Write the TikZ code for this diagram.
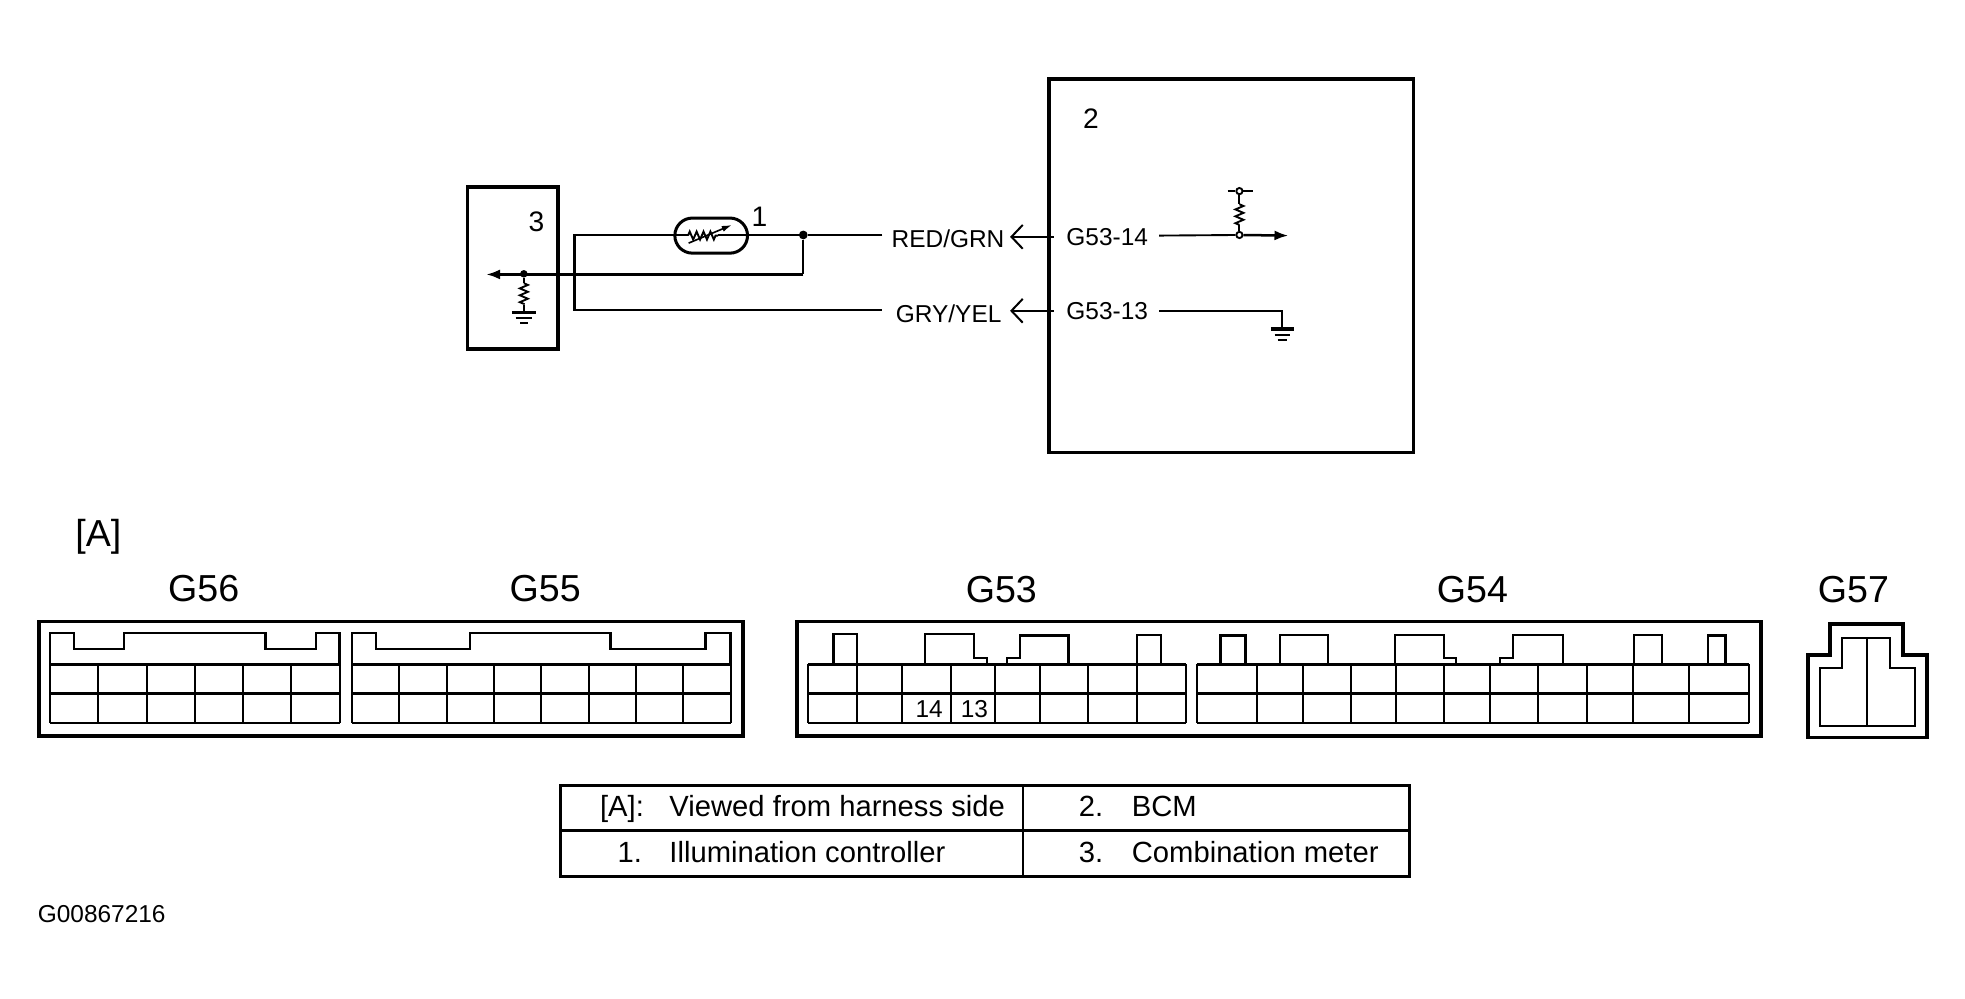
\documentclass[tikz,border=0pt]{standalone}
\usepackage{fontspec}
\setmainfont{Liberation Sans}
\usetikzlibrary{arrows.meta,shapes.misc,decorations.pathmorphing}

\begin{document}
\begin{tikzpicture}[
    x=1pt, y=-1pt,
    unitbox/.style={rectangle, draw, line width=3pt, inner sep=0pt},
    sensor/.style={rounded rectangle, draw, line width=2.4pt, inner sep=0pt, minimum width=58pt, minimum height=28pt},
    pinlabel/.style={inner sep=0pt, font=\fontsize{19.5}{20}\selectfont},
    numlabel/.style={inner sep=0pt, font=\fontsize{22.5}{23}\selectfont},
    connlabel/.style={inner sep=0pt, font=\fontsize{30}{31}\selectfont},
    celllabel/.style={inner sep=0pt, font=\fontsize{23.3}{24}\selectfont, anchor=base west},
    wire/.style={line width=1.8pt},
    thinwire/.style={line width=1.5pt},
    solid arrow/.style={line width=2pt, -{Latex[length=11pt,width=8pt]}},
    open arrow/.style={line width=1.6pt, -{Straight Barb[length=9pt,width=19pt,line width=1.6pt]}},
    zigzag/.style={line width=1.5pt, decorate, decoration={zigzag, amplitude=3.2pt, segment length=5.5pt}},
    dot/.style={circle, fill, inner sep=0pt, minimum size=6pt},
    opendot/.style={circle, draw, fill=white, line width=1.5pt, inner sep=0pt, minimum size=5pt},
    shell/.style={line width=3pt},
    keyline/.style={line width=1.9pt},
    gridline/.style={line width=1.6pt},
    rowline/.style={line width=2.2pt},
    tableline/.style={line width=2.4pt}
]
\useasboundingbox (0,0) rectangle (1568,796.4);

\node[unitbox, minimum width=291pt, minimum height=298pt] (bcm) at (982.5,212) {};
\node[unitbox, minimum width=72pt, minimum height=129pt] (meter) at (409,214) {};
\node[numlabel] (bcmnum) at (870.5,94.5) {2};
\node[numlabel] (meternum) at (428,177) {3};
\node[numlabel] (sensornum) at (606,173) {1};

\node[pinlabel] (pin14) at (883.5,189) {G53-14};
\node[pinlabel] (pin13) at (883.5,248.5) {G53-13};
\node[pinlabel] (redgrn) at (756.5,190.5) {RED/GRN};
\node[pinlabel] (gryyel) at (757,250) {GRY/YEL};

\node[sensor] (sensor) at (567.5,188) {};
\coordinate (rightend) at (704,187.5);
\coordinate (lowerend) at (704,247.5);
\coordinate (corner1) at (458.5,187.5);
\coordinate (corner2) at (458.5,247.5);
\coordinate (corner3) at (641,219);
\node[dot, minimum size=7pt] (junction) at (641,187.5) {};
\node[dot] (meterdot) at (418,218.5) {};
\coordinate (meterend) at (388,219);

\draw[wire] (rightend) -- (junction) -- (573,187.5);
\draw[wire] (549,187.5) -- (corner1) -- (corner2) -- (lowerend);
\draw[zigzag] (549,188) -- (573,188);
\draw[line width=1.3pt, -{Latex[length=8pt,width=5pt]}] (549.5,194) -- (584,179.5);
\draw[thinwire] (junction) -- (corner3);
\draw[solid arrow] (corner3) -- (meterend);

\draw[thinwire] (meterdot) -- (418,226);
\draw[zigzag] (418,226) -- (418,243);
\draw[thinwire] (418,243) -- (418,249.5);
\draw[line width=2.8pt] (408.5,249.5) -- (427.5,249.5);
\draw[line width=1.5pt] (411.5,254) -- (424.5,254);
\draw[line width=1.5pt] (415,258) -- (421,258);

\coordinate (bcmpin14) at (841,189);
\coordinate (bcmpin13) at (841,248);
\coordinate (tip14) at (806,189);
\coordinate (tip13) at (806,248);
\draw[open arrow] (bcmpin14) -- (tip14);
\draw[open arrow] (bcmpin13) -- (tip13);

\coordinate (start14) at (925,188);
\coordinate (end14) at (1028,188);
\node[opendot] (pull) at (989,187.5) {};
\node[opendot] (supply) at (989,152.5) {};
\draw[thinwire] (start14) -- (pull);
\draw[solid arrow] (pull) -- (end14);
\draw[thinwire] (supply) -- (989,163);
\draw[zigzag] (989,163) -- (989,179.5);
\draw[thinwire] (989,179.5) -- (pull);
\draw[thinwire] (979.5,152.5) -- (supply) -- (999.5,152.5);

\coordinate (start13) at (925,248);
\coordinate (gndtop) at (1023,248);
\draw[thinwire] (start13) -- (gndtop) -- (1023,262);
\draw[line width=3.2pt] (1014,262.5) -- (1032.5,262.5);
\draw[line width=1.7pt] (1017,267.5) -- (1029,267.5);
\draw[line width=1.7pt] (1019.5,271.5) -- (1027,271.5);

\node[connlabel] (viewa) at (78.5,428) {[A]};
\node[connlabel] (g56) at (162.5,470) {G56};
\node[connlabel] (g55) at (435,470) {G55};
\node[connlabel] (g53) at (799,470.5) {G53};
\node[connlabel] (g54) at (1175,470.5) {G54};
\node[connlabel] (g57) at (1479,470.5) {G57};

\draw[shell] (31,496) rectangle (593,587);
\draw[shell] (636,496) rectangle (1405,587);

\draw[keyline] (40,530) -- (40,505) -- (59,505) -- (59,518) -- (99,518) -- (99,505) -- (212,505) -- (212,518) -- (252,518) -- (252,505) -- (271,505) -- (271,530);
\draw[rowline] (40,530) -- (271,530) (40,553.5) -- (271,553.5) (40,577) -- (271,577);
\draw[gridline] (40,530) -- (40,577) (271,530) -- (271,577);
\foreach \cx in {78.5,117,155.5,194,232.5}
  \draw[gridline] (\cx,530) -- (\cx,577);

\draw[keyline] (281,530) -- (281,505) -- (300,505) -- (300,518) -- (375,518) -- (375,505) -- (487,505) -- (487,518) -- (563,518) -- (563,505) -- (583,505) -- (583,530);
\draw[rowline] (281,530) -- (583,530) (281,553.5) -- (583,553.5) (281,577) -- (583,577);
\draw[gridline] (281,530) -- (281,577) (583,530) -- (583,577);
\foreach \cx in {318.75,356.5,394.25,432,469.75,507.5,545.25}
  \draw[gridline] (\cx,530) -- (\cx,577);

\draw[rowline] (645,530) -- (946,530) (645,553.5) -- (946,553.5) (645,577) -- (946,577);
\draw[gridline] (645,530) -- (645,577) (946,530) -- (946,577);
\foreach \cx in {683.5,720,759,794,830,868,907}
  \draw[gridline] (\cx,530) -- (\cx,577);
\draw[keyline] (665,530) -- (665,506) -- (684,506) -- (684,530);
\draw[gridline] (738.5,530) -- (738.5,506) -- (777,506) -- (777,525) -- (787.5,525) -- (787.5,530);
\draw[keyline] (803.5,530) -- (803.5,525) -- (814,525) -- (814,507) -- (852.5,507) -- (852.5,530);
\draw[gridline] (907.5,530) -- (907.5,507) -- (926.5,507) -- (926.5,530);
\node[pinlabel] (cell14) at (741.5,566) {14};
\node[pinlabel] (cell13) at (777.5,566) {13};

\draw[rowline] (955,530) -- (1396,530) (955,553.5) -- (1396,553.5) (955,577) -- (1396,577);
\draw[gridline] (955,530) -- (955,577) (1396,530) -- (1396,577);
\foreach \cx in {1003,1040,1078,1114,1152,1189,1227,1266,1303,1348}
  \draw[gridline] (\cx,530) -- (\cx,577);
\draw[keyline] (974,530) -- (974,507) -- (994,507) -- (994,530);
\draw[gridline] (1021.5,530) -- (1021.5,507) -- (1059.5,507) -- (1059.5,530);
\draw[gridline] (1113,530) -- (1113,507) -- (1152,507) -- (1152,525) -- (1161.5,525) -- (1161.5,530);
\draw[gridline] (1197,530) -- (1197,525) -- (1207,525) -- (1207,507) -- (1247,507) -- (1247,530);
\draw[gridline] (1304,530) -- (1304,507) -- (1326,507) -- (1326,530);
\draw[keyline] (1363,530) -- (1363,507) -- (1377,507) -- (1377,530);

\draw[shell] (1443,588.5) -- (1443,522.5) -- (1460,522.5) -- (1460,498) -- (1518.5,498) -- (1518.5,522.5) -- (1537.5,522.5) -- (1537.5,588.5) -- cycle;
\draw[gridline] (1452,579) -- (1452,533) -- (1470,533) -- (1470,509) -- (1508,509) -- (1508,533) -- (1528,533) -- (1528,579) -- cycle;
\draw[gridline] (1489.5,509) -- (1489.5,579);

\draw[tableline] (447,626.5) rectangle (1124.5,699.5);
\draw[tableline] (447,663) -- (1124.5,663);
\draw[gridline] (816,626.5) -- (816,699.5);
\node[celllabel, anchor=base east] (keya) at (514,651.5) {[A]:};
\node[celllabel] (texta) at (534,651.5) {Viewed from harness side};
\node[celllabel, anchor=base east] (key1) at (512.5,688.5) {1.};
\node[celllabel] (text1) at (534,688.5) {Illumination controller};
\node[celllabel, anchor=base east] (key2) at (880.5,651.5) {2.};
\node[celllabel] (text2) at (903,651.5) {BCM};
\node[celllabel, anchor=base east] (key3) at (880.5,688.5) {3.};
\node[celllabel] (text3) at (903,688.5) {Combination meter};

\node[pinlabel, anchor=base west] (figid) at (30,736) {G00867216};

\end{tikzpicture}
\end{document}
